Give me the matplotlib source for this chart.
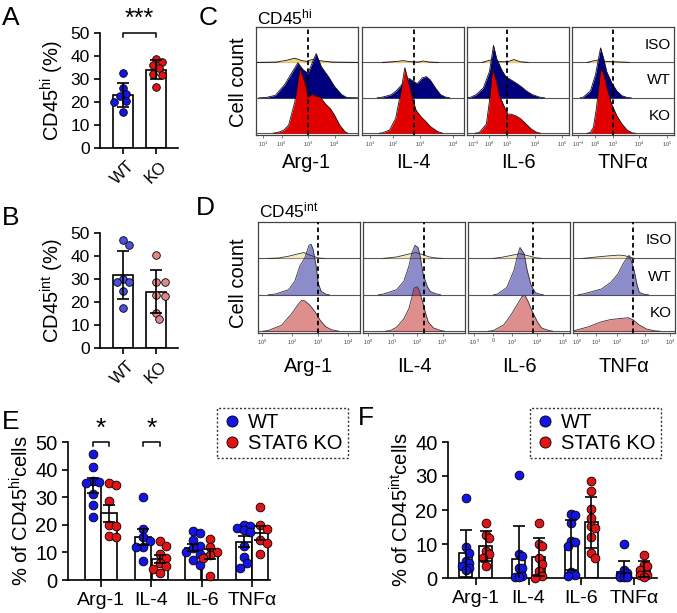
import numpy as np
import matplotlib
matplotlib.use("Agg")
import matplotlib.pyplot as plt
from matplotlib.lines import Line2D

plt.rcParams['font.family'] = ['Liberation Sans', 'DejaVu Sans']
plt.rcParams['mathtext.fontset'] = 'custom'
plt.rcParams['mathtext.rm'] = 'Liberation Sans'
plt.rcParams['mathtext.it'] = 'Liberation Sans:italic'

# ---------------- data ----------------
# A / B: % of CD45hi / CD45int cells
ab_groups = ['WT', 'KO']
hi_wt = [32.6, 26.0, 23.4, 22.4, 20.5, 20.2, 15.8]
hi_ko = [38.8, 37.6, 36.2, 34.7, 32.3, 31.8, 26.5]
int_wt = [46.8, 44.6, 30.1, 28.9, 28.9, 25.0, 17.3]
int_ko = [40.6, 28.9, 28.9, 23.1, 22.4, 15.1, 12.5]

# E / F: cytokine positive cells
markers = ['Arg-1', 'IL-4', 'IL-6', 'TNF\u03b1']
e_wt = [[45.5, 41, 36, 35.5, 35, 31, 27, 23],
        [30, 18.5, 15.5, 14, 12, 12, 7],
        [17.8, 16.9, 14.5, 12.5, 11.5, 10.3, 9.4, 7.3, 5.4],
        [20, 19.5, 19, 18, 17.5, 12.5, 8.5, 6, 4.5]]
e_ko = [[35, 34.5, 28.5, 20, 19.5, 16, 15.5],
        [14, 12.5, 9.5, 8, 6, 5, 4, 2.5],
        [14.8, 12.1, 10.3, 9.1, 7.9, 1.5],
        [26.5, 20, 18.5, 14.5, 13.5, 9.5]]
f_wt = [[23.5, 9, 7.5, 5, 4.5, 3.5, 3, 2.5],
        [30.4, 7.2, 6.5, 3, 2.8, 0.5, 0.5, 0.3, 0.2],
        [18.9, 18.6, 16.2, 10.8, 10.6, 9.3, 1.7, 0.8, 0.5],
        [10, 2.5, 1.5, 1, 0.7, 0.5, 0.3, 0.2, 0.2]]
f_ko = [[16.3, 12.7, 11.8, 7.8, 7.1, 6, 3.6],
        [16.3, 10, 9.5, 5.8, 4.2, 2.2, 0.5, 0],
        [28.4, 25.5, 20.3, 17.6, 15.2, 14.7, 12.1, 7.5, 5.9],
        [6.9, 3.9, 3.4, 2.3, 1, 0.8, 0.3]]

# C / D: flow histograms, (position along axis 0-1, height in row units)
rows = ['ISO', 'WT', 'KO']
hi_arg1_iso = [(0, 0), (0.2, 0.01), (0.3, 0.06), (0.38, 0.12), (0.45, 0.05), (0.5, 0.03), (0.55, 0.08), (0.65, 0.04), (0.75, 0.01), (1, 0)]
hi_arg1_wt = [(0.03, 0), (0.1, 0.01), (0.19, 0.07), (0.28, 0.37), (0.36, 0.75), (0.41, 0.99), (0.46, 0.8), (0.51, 0.69), (0.56, 1.05), (0.59, 1.25), (0.64, 0.88), (0.71, 0.6), (0.77, 0.32), (0.84, 0.09), (0.89, 0.01), (1, 0)]
hi_arg1_ko = [(0.17, 0), (0.22, 0.03), (0.27, 0.08), (0.32, 0.23), (0.38, 0.88), (0.43, 1.85), (0.48, 1.44), (0.51, 1.02), (0.55, 1.11), (0.58, 1.06), (0.63, 1.02), (0.68, 0.83), (0.73, 0.69), (0.77, 0.51), (0.82, 0.23), (0.87, 0.05), (0.9, 0)]
hi_il4_iso = [(0.2, 0), (0.35, 0.03), (0.4, 0.05), (0.48, 0.02), (0.55, 0.01), (0.6, 0.04), (0.66, 0.01), (0.75, 0)]
hi_il4_wt = [(0.15, 0), (0.2, 0.02), (0.28, 0.08), (0.33, 0.18), (0.4, 0.4), (0.46, 0.55), (0.51, 0.46), (0.54, 0.4), (0.59, 0.56), (0.63, 0.6), (0.67, 0.5), (0.72, 0.28), (0.77, 0.09), (0.82, 0.02), (0.86, 0)]
hi_il4_ko = [(0.17, 0), (0.2, 0.01), (0.27, 0.09), (0.33, 0.42), (0.38, 1.16), (0.42, 1.85), (0.46, 1.39), (0.5, 0.93), (0.53, 0.65), (0.58, 0.46), (0.63, 0.32), (0.67, 0.19), (0.74, 0.05), (0.79, 0)]
hi_il6_iso = [(0.15, 0), (0.22, 0.06), (0.26, 0.08), (0.32, 0.02), (0.4, 0.02), (0.46, 0.08), (0.52, 0.02), (0.6, 0)]
hi_il6_wt = [(0.0, 0), (0.03, 0.01), (0.09, 0.09), (0.16, 0.28), (0.22, 0.74), (0.26, 1.48), (0.29, 1.11), (0.34, 0.79), (0.38, 0.6), (0.43, 0.51), (0.48, 0.42), (0.53, 0.32), (0.58, 0.2), (0.64, 0.09), (0.71, 0.02), (0.76, 0)]
hi_il6_ko = [(0.08, 0), (0.12, 0.02), (0.19, 0.26), (0.22, 0.91), (0.25, 1.83), (0.29, 1.46), (0.32, 1.05), (0.37, 0.72), (0.4, 0.54), (0.43, 0.54), (0.48, 0.49), (0.53, 0.4), (0.58, 0.26), (0.63, 0.12), (0.68, 0.03), (0.72, 0)]
hi_tnf_iso = [(0.15, 0), (0.22, 0.05), (0.26, 0.07), (0.32, 0.03), (0.4, 0.02), (0.5, 0.01), (0.56, 0)]
hi_tnf_wt = [(0.08, 0), (0.11, 0.02), (0.18, 0.19), (0.23, 0.65), (0.28, 1.41), (0.31, 1.11), (0.34, 0.74), (0.39, 0.42), (0.44, 0.19), (0.49, 0.06), (0.54, 0.01), (0.58, 0)]
hi_tnf_ko = [(0.15, 0), (0.18, 0.02), (0.21, 0.17), (0.24, 0.72), (0.28, 1.81), (0.31, 1.69), (0.34, 1.32), (0.39, 0.81), (0.44, 0.49), (0.49, 0.26), (0.54, 0.09), (0.59, 0.01), (0.62, 0)]

int_arg1_iso = [(0.1, 0), (0.2, 0.01), (0.3, 0.06), (0.4, 0.13), (0.45, 0.16), (0.5, 0.1), (0.55, 0.05), (0.6, 0.01), (0.65, 0)]
int_arg1_wt = [(0.1, 0), (0.17, 0.02), (0.3, 0.14), (0.36, 0.37), (0.41, 0.79), (0.46, 1.02), (0.5, 1.36), (0.52, 1.39), (0.54, 1.25), (0.57, 0.79), (0.59, 0.32), (0.62, 0.09), (0.67, 0.01), (0.7, 0)]
int_arg1_ko = [(0.05, 0), (0.1, 0.02), (0.23, 0.16), (0.33, 0.48), (0.4, 0.76), (0.43, 0.85), (0.46, 0.83), (0.51, 0.71), (0.56, 0.53), (0.61, 0.3), (0.66, 0.13), (0.72, 0.04), (0.79, 0)]
int_il4_iso = [(0.2, 0), (0.33, 0.04), (0.45, 0.12), (0.52, 0.16), (0.58, 0.11), (0.65, 0.04), (0.72, 0.01), (0.78, 0)]
int_il4_wt = [(0.15, 0), (0.2, 0.02), (0.33, 0.14), (0.4, 0.37), (0.45, 0.79), (0.48, 1.16), (0.51, 1.36), (0.54, 1.3), (0.56, 1.06), (0.59, 0.56), (0.63, 0.23), (0.66, 0.09), (0.71, 0.03), (0.76, 0)]
int_il4_ko = [(0.22, 0), (0.27, 0.02), (0.33, 0.11), (0.4, 0.34), (0.45, 0.62), (0.48, 0.94), (0.5, 1.18), (0.53, 1.22), (0.55, 1.13), (0.58, 0.85), (0.61, 0.53), (0.64, 0.25), (0.69, 0.09), (0.76, 0.02), (0.8, 0)]
int_il6_iso = [(0.25, 0), (0.33, 0.03), (0.42, 0.08), (0.51, 0.13), (0.58, 0.08), (0.66, 0.02), (0.72, 0)]
int_il6_wt = [(0.25, 0), (0.29, 0.02), (0.38, 0.2), (0.45, 0.67), (0.49, 1.13), (0.51, 1.3), (0.55, 1.13), (0.58, 0.67), (0.62, 0.25), (0.66, 0.06), (0.71, 0.01), (0.74, 0)]
int_il6_ko = [(0.2, 0), (0.25, 0.02), (0.35, 0.17), (0.42, 0.44), (0.48, 0.72), (0.53, 0.95), (0.56, 0.98), (0.59, 0.81), (0.63, 0.54), (0.68, 0.26), (0.72, 0.09), (0.79, 0.02), (0.83, 0)]
int_tnf_iso = [(0.1, 0), (0.2, 0.03), (0.35, 0.07), (0.45, 0.09), (0.5, 0.08), (0.55, 0.04), (0.6, 0)]
int_tnf_wt = [(0.05, 0), (0.11, 0.03), (0.28, 0.16), (0.37, 0.34), (0.44, 0.57), (0.49, 0.85), (0.54, 1.06), (0.55, 1.08), (0.56, 1.04), (0.6, 0.66), (0.63, 0.25), (0.65, 0.07), (0.7, 0.01), (0.74, 0)]
int_tnf_ko = [(0.0, 0.01), (0.02, 0.02), (0.15, 0.12), (0.28, 0.26), (0.37, 0.32), (0.47, 0.35), (0.54, 0.37), (0.59, 0.31), (0.65, 0.17), (0.72, 0.06), (0.8, 0.01), (0.85, 0)]

hi_hists = [[hi_arg1_iso, hi_arg1_wt, hi_arg1_ko], [hi_il4_iso, hi_il4_wt, hi_il4_ko],
            [hi_il6_iso, hi_il6_wt, hi_il6_ko], [hi_tnf_iso, hi_tnf_wt, hi_tnf_ko]]
int_hists = [[int_arg1_iso, int_arg1_wt, int_arg1_ko], [int_il4_iso, int_il4_wt, int_il4_ko],
             [int_il6_iso, int_il6_wt, int_il6_ko], [int_tnf_iso, int_tnf_wt, int_tnf_ko]]

# axis ticks of the flow plots
dec14 = ['10$^1$', '10$^2$', '10$^3$', '10$^4$']
decm5 = ['10$^{-3}$', '10$^0$', '10$^3$', '10$^4$', '10$^5$']
hi_ticks = [[0.07, 0.25, 0.51, 0.77], [0.08, 0.30, 0.57, 0.89],
            [0.06, 0.22, 0.39, 0.67, 0.93], [0.06, 0.23, 0.40, 0.66, 0.93]]
hi_ticklabels = [dec14, dec14, decm5, decm5]
hi_gates = [0.51, 0.51, 0.39, 0.40]
int_ticks = [[0.04, 0.33, 0.59, 0.88], [0.05, 0.29, 0.53, 0.78],
             [0.06, 0.25, 0.43, 0.68, 0.93], [0.04, 0.23, 0.43, 0.71, 0.95]]
int_ticklabels = [['10$^0$', '10$^2$', '10$^3$', '10$^4$'], ['10$^0$', '10$^1$', '10$^2$', '10$^3$'],
                  ['-10$^3$', '0', '10$^3$', '10$^4$', '10$^5$'],
                  ['10$^0$', '10$^1$', '10$^2$', '10$^3$', '10$^4$']]
int_gates = [0.59, 0.60, 0.64, 0.59]

# ---------------- figure ----------------
W, H = 677, 613
fig = plt.figure(figsize=(W / 100, H / 100), dpi=100)

BLUE = '#1414e6'
RED = '#e01414'


def px_axes(x0, y0, x1, y1):
    return fig.add_axes([x0 / W, 1 - y1 / H, (x1 - x0) / W, (y1 - y0) / H])


def swarm_x(ax, center, vals, d_px, half_w_px):
    # spread dots sideways inside the bar; if no free spot, take the least crowded one
    placed = []
    out = []
    n_steps = int(half_w_px // (0.4 * d_px))
    cands = [0]
    for k in range(1, n_steps + 1):
        cands += [k, -k]
    for v in vals:
        cx, cy = ax.transData.transform((center, v))
        best, best_d = cx, -1
        for k in cands:
            x = cx + k * d_px * 0.4
            dmin = min([np.hypot(x - px, cy - py) for px, py in placed] + [1e9])
            if dmin >= 0.85 * d_px:
                best = x
                break
            if dmin > best_d:
                best, best_d = x, dmin
        placed.append((best, cy))
        out.append(ax.transData.inverted().transform((best, cy))[0])
    return out


def style_bar_axes(ax, fs):
    for s in ['top', 'right']:
        ax.spines[s].set_visible(False)
    for s in ['left', 'bottom']:
        ax.spines[s].set_linewidth(1.2)
    ax.tick_params(width=1.2, length=4, labelsize=fs)


def dot_bar(ax, x, vals, color, width, d_px, err='sd', ms=5.5):
    vals = np.array(vals, float)
    m = vals.mean()
    e = vals.std(ddof=1)
    if err == 'sem':
        e = e / np.sqrt(len(vals))
    ax.bar(x, m, width, color='white', edgecolor='black', linewidth=1.2, zorder=2)
    x0 = ax.transData.transform((x, 0))[0]
    x1 = ax.transData.transform((x + width / 2, 0))[0]
    xs = swarm_x(ax, x, vals, d_px, (x1 - x0) * 0.95)
    ax.plot(xs, vals, 'o', color=color, mec='black', mew=0.6, ms=ms, zorder=3, clip_on=False)
    ax.errorbar(x, m, yerr=e, color='black', capsize=4, capthick=1.2, elinewidth=1.2, zorder=4)


def ab_panel(box, wt, ko, cwt, cko, ylabel):
    ax = px_axes(*box)
    ax.set_xlim(-0.70, 1.66)
    ax.set_ylim(0, 50)
    style_bar_axes(ax, 12.5)
    ax.spines['left'].set_bounds(0, 50)
    dot_bar(ax, 0, wt, cwt, 0.6, 7.5)
    dot_bar(ax, 1, ko, cko, 0.6, 7.5)
    ax.set_xticks([0, 1])
    ax.set_xticklabels(ab_groups, rotation=45, fontsize=12)
    ax.set_yticks([0, 10, 20, 30, 40, 50])
    ax.set_ylabel(ylabel, fontsize=14.5, labelpad=3)
    return ax


# ---- A ----
axA = ab_panel((100, 33, 178, 148), hi_wt, hi_ko, BLUE, RED, 'CD45$^{\\mathrm{hi}}$ (%)')
axA.plot([0, 0, 1, 1], [48.2, 50, 50, 48.2], color='black', lw=1.1, clip_on=False)
axA.text(0.5, 51, '***', ha='center', va='bottom', fontsize=18)
fig.text(2 / W, 1 - 18 / H, 'A', fontsize=19, va='center')

# ---- B ----
axB = ab_panel((100, 233, 178, 348), int_wt, int_ko, '#4a50e0', '#e08888', 'CD45$^{\\mathrm{int}}$ (%)')
fig.text(2 / W, 1 - 218 / H, 'B', fontsize=19, va='center')


# ---- C / D ----
def flow_panel(boxes, hists, ticks, ticklabels, gates, colors, alpha, edge, ytop, ybot, label_y):
    for i, box in enumerate(boxes):
        ax = px_axes(box[0], ytop, box[1], ybot)
        ax.set_xlim(0, 1)
        ax.set_ylim(-0.05, 3)
        for r, hist in enumerate(hists[i]):
            base = 2 - r
            z = 2 + r
            ax.axhline(base, color='#555555', lw=0.8, zorder=z)
            pts = np.array(hist)
            ax.fill_between(pts[:, 0], base, base + pts[:, 1], color=colors[r],
                            alpha=alpha[r], lw=0, zorder=z)
            ax.plot(pts[:, 0], base + pts[:, 1], color=edge, lw=0.6, zorder=z)
        ax.axvline(gates[i], color='black', lw=1.3, ls=(0, (2.5, 1.8)), zorder=10)
        ax.set_yticks([])
        ax.set_xticks(ticks[i])
        ax.set_xticklabels(ticklabels[i], fontsize=4, color='#444444')
        ax.tick_params(axis='x', length=2, width=0.5, pad=1.5, color='#444444')
        for s in ax.spines.values():
            s.set_linewidth(0.9)
            s.set_color('#444444')
        fig.text((box[0] + box[1]) / 2 / W, 1 - label_y / H, markers[i],
                 ha='center', va='center', fontsize=14.5)
        if i == 3:
            for r, name in enumerate(rows):
                ax.text(0.97, 2.5 - r, name, ha='right', va='center', fontsize=11, zorder=12)


boxesC = [(256, 358), (362, 464), (467, 569), (572, 674)]
flow_panel(boxesC, hi_hists, hi_ticks, hi_ticklabels, hi_gates,
           ['#f5cf78', '#00007f', '#e00000'], [1, 1, 1], '#111111', 27, 135, 163)
fig.text(208 / W, 1 - 18 / H, 'C', fontsize=19, va='center', ha='center')
fig.text(257 / W, 1 - 17 / H, 'CD45$^{\\mathrm{hi}}$', fontsize=12.5, va='center')
fig.text(238 / W, 1 - 82 / H, 'Cell count', fontsize=14.5, rotation=90, ha='center', va='center')

boxesD = [(258, 360), (363, 465), (468, 570), (573, 675)]
flow_panel(boxesD, int_hists, int_ticks, int_ticklabels, int_gates,
           ['#f0d890', '#1a1a99', '#c01e1e'], [0.5, 0.5, 0.5], '#333333', 222, 333, 367)
fig.text(205 / W, 1 - 208 / H, 'D', fontsize=19, va='center', ha='center')
fig.text(259 / W, 1 - 210 / H, 'CD45$^{\\mathrm{int}}$', fontsize=12.5, va='center')
fig.text(238 / W, 1 - 283 / H, 'Cell count', fontsize=14.5, rotation=90, ha='center', va='center')


# ---- E / F ----
def ef_panel(box, xlim, ymax, yticks, wt, ko, off, width, err, ylabel, d_px):
    ax = px_axes(*box)
    ax.set_xlim(*xlim)
    ax.set_ylim(0, ymax)
    style_bar_axes(ax, 14.5)
    for g in range(len(markers)):
        dot_bar(ax, g - off, wt[g], BLUE, width, d_px, err=err, ms=6.3)
        dot_bar(ax, g + off, ko[g], RED, width, d_px, err=err, ms=6.3)
    ax.set_xticks(range(len(markers)))
    ax.set_xticklabels(markers, fontsize=14)
    ax.tick_params(axis='x', length=5)
    ax.set_yticks(yticks)
    ax.set_ylabel(ylabel, fontsize=14.5, labelpad=2)
    return ax


def dotted_legend(x0, y0):
    handles = [Line2D([], [], ls='', marker='o', color=BLUE, mec='black', mew=0.6, ms=8),
               Line2D([], [], ls='', marker='o', color=RED, mec='black', mew=0.6, ms=8)]
    leg = fig.legend(handles, ['WT', 'STAT6 KO'], loc='upper left',
                     bbox_to_anchor=(x0 / W, 1 - y0 / H), fontsize=14.5, frameon=True,
                     fancybox=False, borderpad=0.25, handletextpad=0.3, labelspacing=0.1,
                     handlelength=1.0, borderaxespad=0)
    fr = leg.get_frame()
    fr.set_edgecolor('black')
    fr.set_linewidth(1.0)
    fr.set_linestyle((0, (1.5, 1.5)))
    return leg


axE = ef_panel((68, 442, 270, 580), (-0.656, 3.36), 50, [0, 10, 20, 30, 40, 50],
               e_wt, e_ko, 0.165, 0.32, 'sem', '% of CD45$^{\\mathrm{hi}}$cells', 8.5)
for g in [0, 1]:
    axE.plot([g - 0.165, g - 0.165, g + 0.165, g + 0.165], [48.5, 50, 50, 48.5],
             color='black', lw=1.1, clip_on=False)
    axE.text(g, 50.5, '*', ha='center', va='bottom', fontsize=19)
fig.text(2 / W, 1 - 422 / H, 'E', fontsize=19, va='center')
dotted_legend(217, 408)

axF = ef_panel((448, 442, 657, 578), (-0.53, 3.44), 40, [0, 10, 20, 30, 40],
               f_wt, f_ko, 0.19, 0.25, 'sd', '% of CD45$^{\\mathrm{int}}$cells', 8.5)
fig.text(366 / W, 1 - 418 / H, 'F', fontsize=19, va='center', ha='center')
dotted_legend(530, 408)

fig.savefig('out.png', dpi=100)
